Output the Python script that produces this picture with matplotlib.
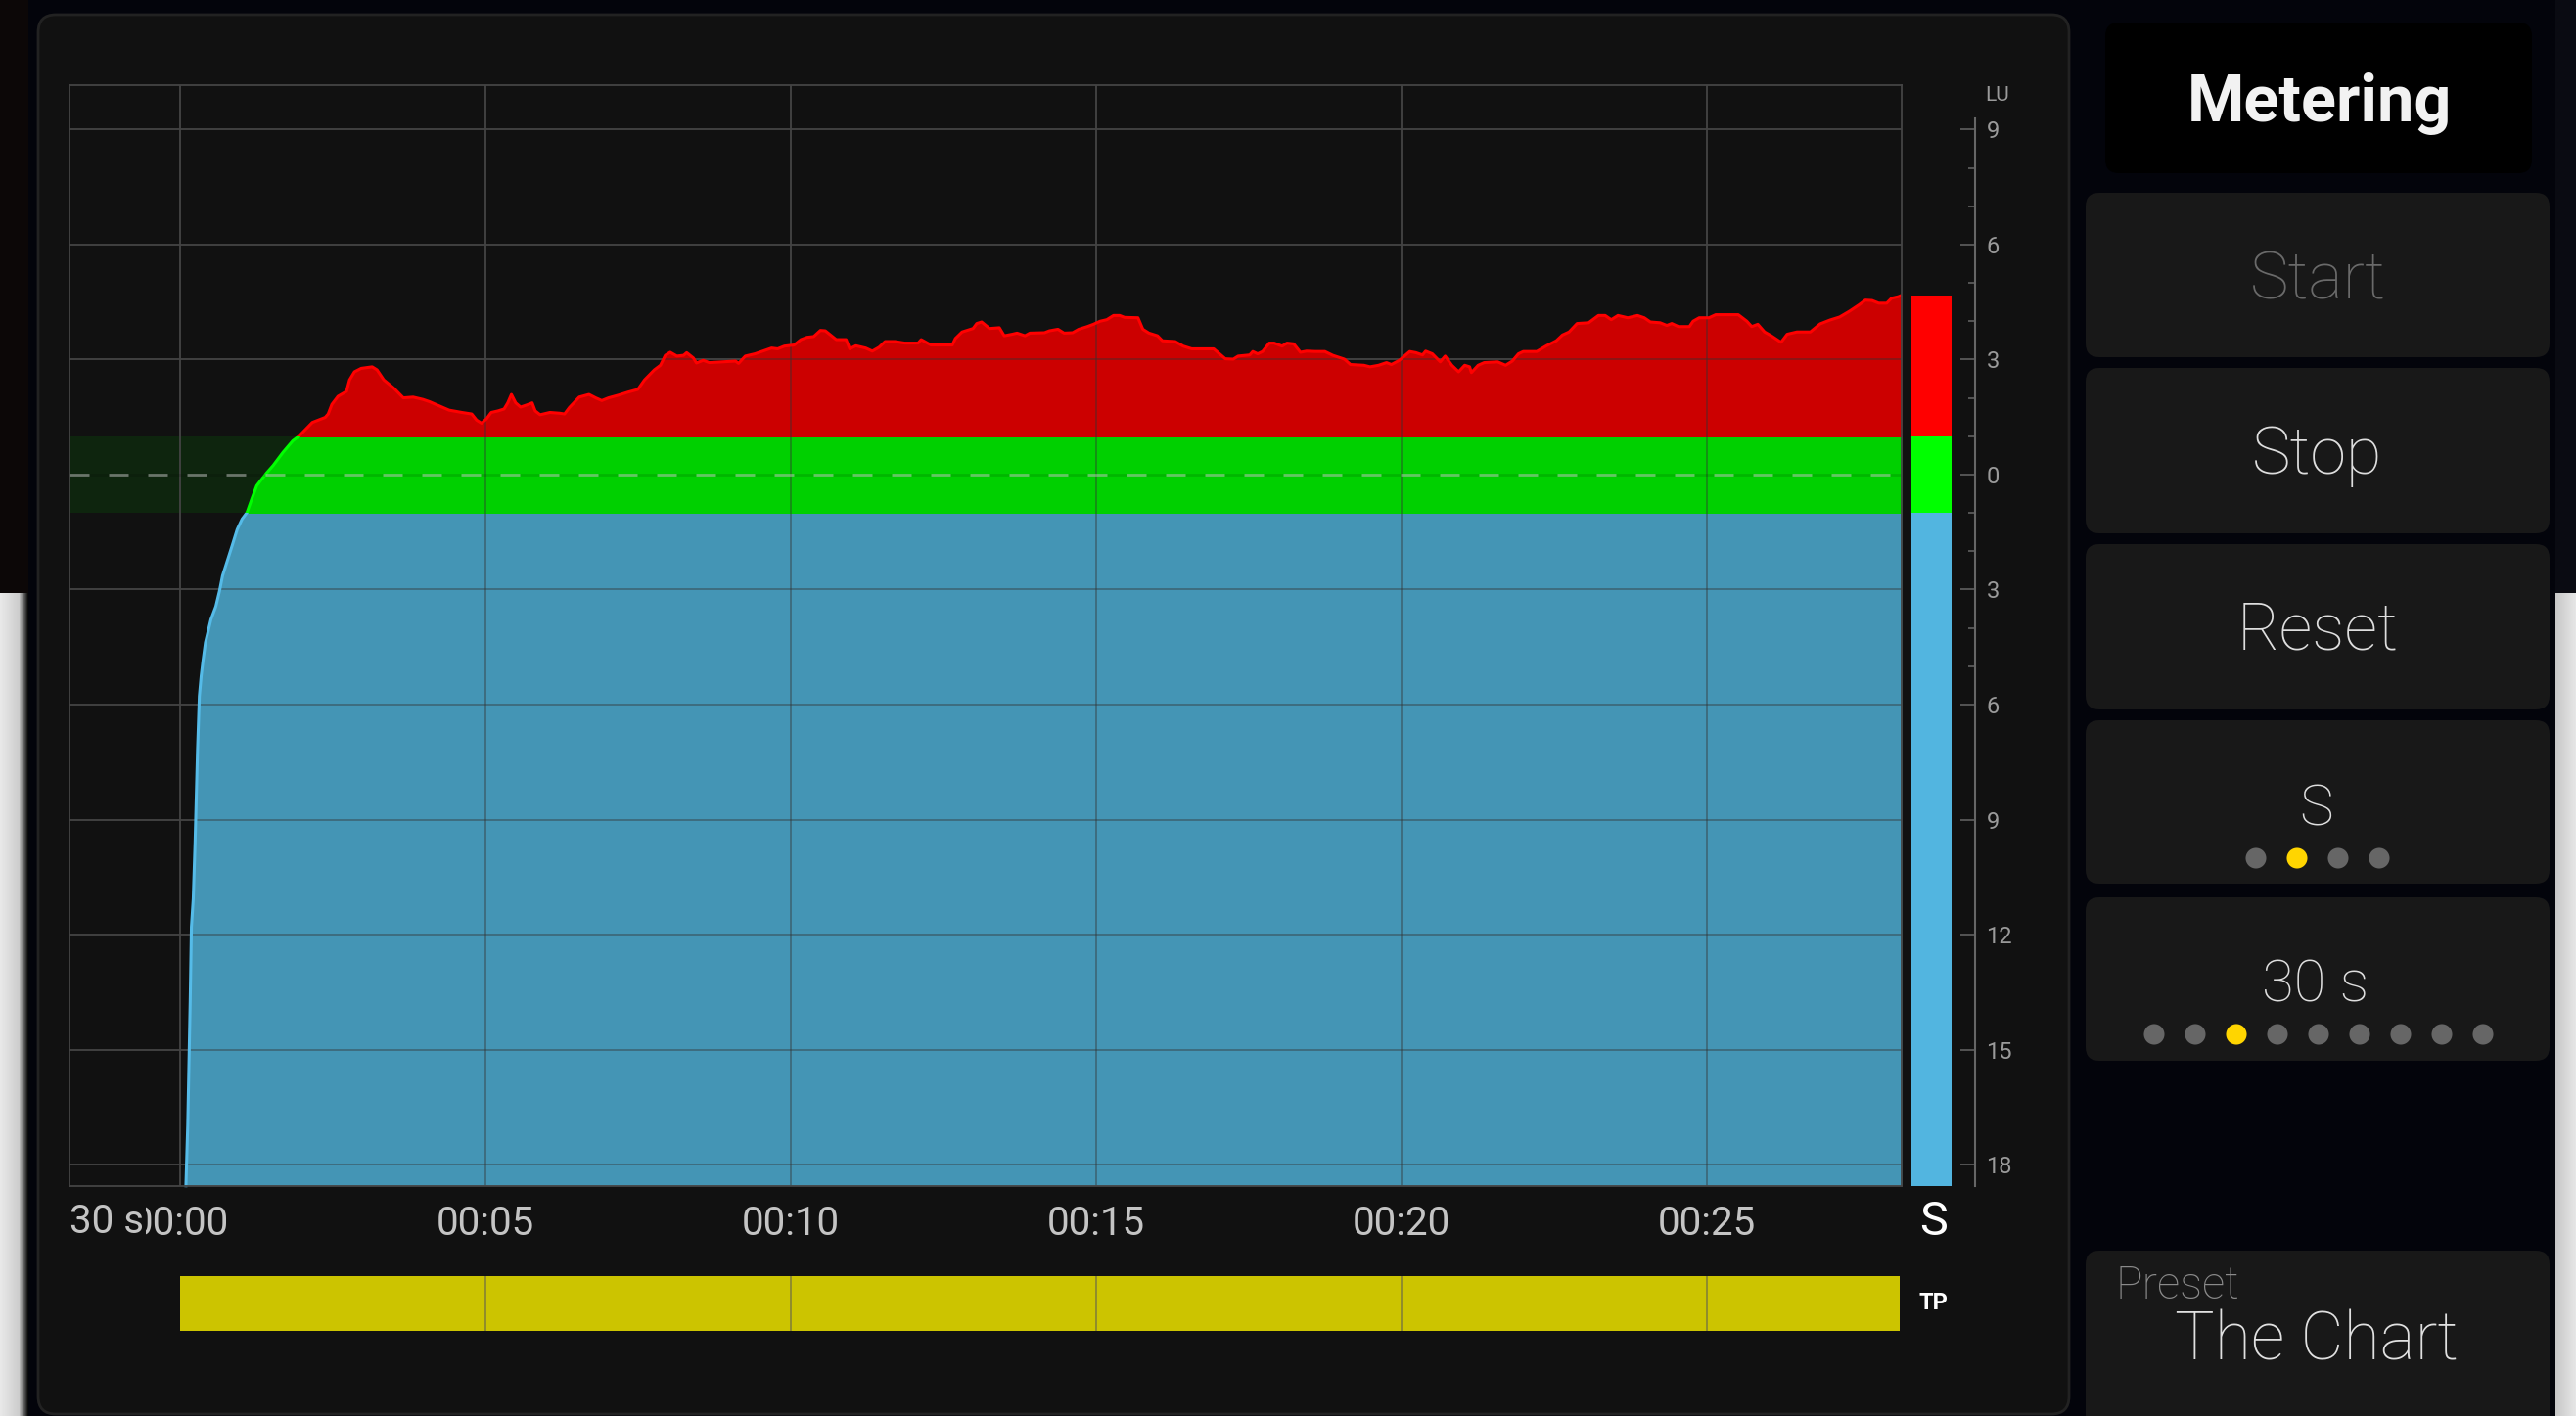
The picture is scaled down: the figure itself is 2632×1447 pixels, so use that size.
import matplotlib
matplotlib.use('Agg')
import matplotlib.pyplot as plt
import numpy as np
from matplotlib.patches import FancyBboxPatch, Rectangle

plt.rcParams['font.family'] = ['Roboto', 'DejaVu Sans']
plt.rcParams['lines.scale_dashes'] = False

W, H = 2632, 1447

# short-term loudness relative to target (LU) over the 30 s window
time_s = [
    0.10, 0.11, 0.13, 0.17, 0.19, 0.22, 0.25, 0.29, 0.32, 0.35,
    0.38, 0.42, 0.46, 0.51, 0.59, 0.65, 0.70, 0.78, 0.86, 0.94,
    1.02, 1.10, 1.18, 1.26, 1.42, 1.53, 1.69, 1.85, 1.95,
    2.17, 2.38, 2.43, 2.49, 2.59, 2.73, 2.78, 2.86, 2.97, 3.15,
    3.23, 3.34, 3.50, 3.66, 3.82, 3.98, 4.09, 4.25, 4.41, 4.62,
    4.78, 4.86, 4.94, 5.02, 5.10, 5.21, 5.31, 5.37, 5.43, 5.50,
    5.58, 5.69, 5.77, 5.82, 5.90, 6.06, 6.22, 6.30, 6.38, 6.54,
    6.70, 6.81, 6.91, 7.02, 7.18, 7.34, 7.50, 7.61, 7.77, 7.87,
    7.95, 8.03, 8.14, 8.25, 8.30, 8.41, 8.46, 8.57, 8.67, 8.89,
    9.10, 9.15, 9.26, 9.42, 9.58, 9.69, 9.79, 9.90, 10.06, 10.17,
    10.27, 10.38, 10.49, 10.57, 10.75, 10.91, 10.97, 11.07, 11.23, 11.34,
    11.45, 11.55, 11.71, 11.87, 12.09, 12.14, 12.30, 12.65, 12.70, 12.81,
    12.99, 13.05, 13.13, 13.26,
    13.42, 13.50, 13.63, 13.71, 13.84, 13.92, 14.16, 14.24, 14.38, 14.48,
    14.62, 14.72, 14.86, 14.96, 15.07, 15.18, 15.29, 15.39, 15.47, 15.69,
    15.77, 15.87, 16.01, 16.09, 16.30, 16.43, 16.57, 16.93, 17.12, 17.25,
    17.33, 17.52, 17.57, 17.65, 17.73, 17.84, 17.92, 18.05, 18.13, 18.24,
    18.35, 18.45, 18.59, 18.75, 18.88, 19.07, 19.17, 19.39, 19.49, 19.63,
    19.76, 19.84, 19.97,
    20.14, 20.24, 20.35, 20.40, 20.51, 20.64, 20.72, 20.83, 20.94, 21.04,
    21.12, 21.15, 21.26, 21.36, 21.58, 21.71, 21.82, 21.92, 22.00, 22.22,
    22.38, 22.54, 22.64, 22.75, 22.88, 23.07, 23.23, 23.34, 23.44, 23.55,
    23.71, 23.87, 23.98, 24.08, 24.24, 24.35, 24.43, 24.54, 24.72, 24.78,
    24.88, 25.04, 25.15, 25.52, 25.66, 25.74, 25.84, 25.95,
    26.06, 26.22, 26.32, 26.48, 26.70, 26.86, 27.02, 27.18, 27.34, 27.50,
    27.60, 27.71, 27.82, 27.95, 28.03, 28.14, 28.20,
]
loudness_lu = [
    -18.55, -18.0, -16.96, -13.75, -11.8, -11.07, -9.6, -7.19, -5.78, -5.25,
    -4.85, -4.38, -4.11, -3.78, -3.44, -3.04, -2.64, -2.24, -1.84, -1.43,
    -1.16, -0.99, -0.63, -0.29, 0.04, 0.24, 0.58, 0.88, 1.0,
    1.36, 1.49, 1.58, 1.83, 2.04, 2.17, 2.47, 2.68, 2.77, 2.81,
    2.73, 2.47, 2.26, 2.00, 2.02, 1.96, 1.90, 1.79, 1.68, 1.62,
    1.58, 1.42, 1.34, 1.45, 1.62, 1.66, 1.71, 1.87, 2.09, 1.87,
    1.76, 1.82, 1.87, 1.66, 1.56, 1.62, 1.60, 1.58, 1.75, 2.02,
    2.09, 2.00, 1.93, 2.00, 2.07, 2.15, 2.22, 2.47, 2.73, 2.85,
    3.11, 3.19, 3.09, 3.11, 3.18, 3.04, 2.91, 2.98, 2.92, 2.94,
    2.96, 2.90, 3.09, 3.15, 3.24, 3.30, 3.28, 3.35, 3.38, 3.52,
    3.58, 3.60, 3.76, 3.75, 3.52, 3.52, 3.28, 3.36, 3.30, 3.22,
    3.32, 3.47, 3.47, 3.43, 3.43, 3.52, 3.38, 3.38, 3.55, 3.72,
    3.81, 3.94, 3.98, 3.81,
    3.83, 3.62, 3.66, 3.69, 3.62, 3.69, 3.70, 3.75, 3.79, 3.69,
    3.70, 3.79, 3.86, 3.92, 4.00, 4.04, 4.15, 4.15, 4.10, 4.09,
    3.79, 3.69, 3.62, 3.49, 3.47, 3.35, 3.28, 3.28, 3.02, 3.01,
    3.09, 3.12, 3.21, 3.15, 3.21, 3.43, 3.43, 3.35, 3.43, 3.41,
    3.19, 3.22, 3.21, 3.21, 3.11, 3.01, 2.87, 2.85, 2.81, 2.85,
    2.92, 2.87, 2.98,
    3.21, 3.18, 3.12, 3.22, 3.15, 2.94, 3.09, 2.85, 2.68, 2.85,
    2.81, 2.66, 2.85, 2.92, 2.94, 2.85, 2.96, 3.15, 3.21, 3.21,
    3.36, 3.49, 3.64, 3.72, 3.94, 3.96, 4.15, 4.15, 4.04, 4.15,
    4.09, 4.15, 4.09, 3.98, 3.96, 3.89, 3.94, 3.86, 3.86, 4.00,
    4.09, 4.09, 4.17, 4.17, 4.00, 3.86, 3.92, 3.72,
    3.62, 3.45, 3.66, 3.72, 3.72, 3.93, 4.03, 4.11, 4.26, 4.43,
    4.55, 4.54, 4.47, 4.47, 4.60, 4.64, 4.68,
]

meter_now = 4.68          # current short-term value (S bar)
tp_end = 28.17            # true-peak strip length (s)
target_lo, target_hi = -1.0, 1.0
t_min, t_max = -1.8, 28.2
lu_min, lu_max = -18.55, 10.15

x_ticks = [0, 5, 10, 15, 20, 25]
x_labels = ['00:00', '00:05', '00:10', '00:15', '00:20', '00:25']
lu_ticks = [9, 6, 3, 0, -3, -6, -9, -12, -15, -18]
lu_labels = ['9', '6', '3', '0', '3', '6', '9', '12', '15', '18']
lu_minor = [8, 7, 5, 4, 2, 1, -1, -2, -4, -5]

buttons = ['Start', 'Stop', 'Reset']
button_colors = ['#6a6a6a', '#dedede', '#dedede']
mode_label, mode_count, mode_sel = 'S', 4, 1
span_label, span_count, span_sel = '30 s', 9, 2
preset_name = 'The Chart'

BG = '#03040b'
PANEL = '#111111'
BTN = '#181818'

fig = plt.figure(figsize=(W / 100, H / 100), dpi=100, facecolor=BG)

# ---- screen furniture in pixel coordinates ----
ui = fig.add_axes([0, 0, 1, 1])
ui.set_zorder(0)
ui.axis('off')

grad = np.concatenate([np.linspace(0.91, 0.80, 20), np.linspace(0.7, 0.05, 9)])[None, :]
ui.imshow(grad, extent=(0, 29, H, 606), cmap='gray', vmin=0, vmax=1, aspect='auto')
grad_r = np.linspace(0.78, 0.9, 21)[None, :]
ui.imshow(grad_r, extent=(2611, W, H, 606), cmap='gray', vmin=0, vmax=1, aspect='auto')
ui.add_patch(Rectangle((0, 0), 29, 606, fc='#0c0707', lw=0))
ui.add_patch(Rectangle((2611, 0), 21, 606, fc='#0a0b12', lw=0))
ui.set_xlim(0, W)
ui.set_ylim(H, 0)


def box(x0, y0, x1, y1, fc, r=14, ec='none', lw=0):
    ui.add_patch(FancyBboxPatch((x0 + r, y0 + r), x1 - x0 - 2 * r, y1 - y0 - 2 * r,
                                boxstyle=f'round,pad={r}', fc=fc, ec=ec, lw=lw))


box(39, 15, 2114, 1445, PANEL, r=18, ec='#222222', lw=2)

box(2151, 23, 2587, 177, '#000000')
ui.text(2370, 124, 'Metering', ha='center', va='baseline', fontsize=48,
        fontweight='bold', color='#f2f2f2')

btn_rows = [(197, 365, 305), (376, 545, 484), (556, 725, 663)]
for label, col, (y0, y1, base) in zip(buttons, button_colors, btn_rows):
    box(2131, y0, 2605, y1, BTN)
    ui.text(2368, base, label, ha='center', va='baseline', fontsize=48,
            fontweight='light', color=col)

# meter mode selector
box(2131, 736, 2605, 903, BTN)
ui.text(2367, 844, mode_label, ha='center', va='baseline', fontsize=42,
        fontweight='light', color='#dedede')
mx = 2368 + (np.arange(mode_count) - (mode_count - 1) / 2) * 42
ui.scatter(mx, [877] * mode_count, s=230, lw=0,
           c=['#ffd500' if i == mode_sel else '#666666' for i in range(mode_count)])

# time span selector
box(2131, 917, 2605, 1084, BTN)
ui.text(2366, 1024, span_label, ha='center', va='baseline', fontsize=43,
        fontweight='light', color='#dedede')
sx = 2369 + (np.arange(span_count) - (span_count - 1) / 2) * 42
ui.scatter(sx, [1057] * span_count, s=230, lw=0,
           c=['#ffd500' if i == span_sel else '#666666' for i in range(span_count)])

# preset
box(2131, 1278, 2605, 1460, BTN)
ui.text(2161, 1327, 'Preset', ha='left', va='baseline', fontsize=33,
        fontweight='light', color='#8a8a8a')
ui.text(2222, 1390, preset_name, ha='left', va='baseline', fontsize=49,
        fontweight='light', color='#e0e0e0')

# ---- loudness history ----
px0, px1, py0, py1 = 71.4, 1943.3, 87.3, 1211.7
ax = fig.add_axes([px0 / W, 1 - py1 / H, (px1 - px0) / W, (py1 - py0) / H])
ax.set_zorder(2)
ax.set_facecolor(PANEL)
ax.set_xlim(t_min, t_max)
ax.set_ylim(lu_min, lu_max)
for s in ax.spines.values():
    s.set_color('#444444')
    s.set_linewidth(1.3)

ax.axhspan(target_lo, target_hi, color='#0e250e', lw=0, zorder=0.5)
for x in x_ticks:
    ax.axvline(x, color='#444444', lw=1.3, zorder=0.8)
for y in lu_ticks:
    if y != 0:
        ax.axhline(y, color='#444444', lw=1.3, zorder=0.8)

t = np.array(time_s)
lu = np.array(loudness_lu)
zones = [(lu_min - 1, target_lo, '#4495b5', '#55bbe8'),
         (target_lo, target_hi, '#00d000', '#00ff00'),
         (target_hi, 30, '#cc0000', '#ff0000')]
fill_path = None
for lo, hi, fc, ec in zones:
    clip = Rectangle((t_min, lo), t_max - t_min, hi - lo, transform=ax.transData)
    f = ax.fill_between(t, lu_min, lu, color=fc, lw=0, zorder=1)
    f.set_clip_path(clip)
    fill_path = f.get_paths()[0]
    ln, = ax.plot(t, lu, color=ec, lw=2.2, zorder=1.6)
    ln.set_clip_path(clip)

# grid seen through the fill
for x in x_ticks:
    g = ax.axvline(x, color='#333333', alpha=0.45, lw=1.3, zorder=1.2)
    g.set_clip_path(fill_path, ax.transData)
for y in lu_ticks:
    if y != 0:
        g = ax.axhline(y, color='#333333', alpha=0.45, lw=1.3, zorder=1.2)
        g.set_clip_path(fill_path, ax.transData)

ax.axhline(0, color='#000000', alpha=0.12, lw=2, zorder=1.7)
ax.axhline(0, color='#dddddd', alpha=0.45, lw=2, dashes=(14.4, 14.4), zorder=1.8)

ax.set_xticks(x_ticks, x_labels)
ax.set_yticks([])
ax.tick_params(axis='x', length=0, pad=14, labelsize=29, labelcolor='#c4c4c4')
ax.annotate('30 s', xy=(0, 0), xycoords='axes fraction', xytext=(0, -35),
            textcoords='offset points', ha='left', va='baseline', fontsize=29,
            color='#c4c4c4', zorder=5,
            bbox=dict(fc=PANEL, ec='none', boxstyle='square,pad=0.05'))

# ---- short-term meter bar and LU scale ----
mx0, mx1 = 1953, 2018.3
axm = fig.add_axes([mx0 / W, 1 - py1 / H, (mx1 - mx0) / W, (py1 - py0) / H])
axm.set_zorder(2)
axm.patch.set_alpha(0)
axm.set_xlim(0, 1)
axm.set_ylim(lu_min, lu_max)
bw = (1994 - mx0) / (mx1 - mx0)
axm.bar(0, target_lo - lu_min, bottom=lu_min, width=bw, align='edge', color='#52b5e0', lw=0)
axm.bar(0, target_hi - target_lo, bottom=target_lo, width=bw, align='edge', color='#00ff00', lw=0)
axm.bar(0, meter_now - target_hi, bottom=target_hi, width=bw, align='edge', color='#ff0000', lw=0)
for side in ['left', 'top', 'bottom']:
    axm.spines[side].set_visible(False)
axm.spines['right'].set_color('#666666')
axm.spines['right'].set_linewidth(1.5)
axm.spines['right'].set_bounds(lu_min, 9.3)
axm.set_xticks([])
axm.yaxis.tick_right()
axm.set_yticks(lu_ticks, lu_labels)
axm.set_yticks(lu_minor, minor=True)
axm.tick_params(axis='y', which='major', direction='in', length=10.8, width=1.1,
                color='#666666', pad=8, labelsize=17, labelcolor='#9a9a9a')
axm.tick_params(axis='y', which='minor', direction='in', length=5, width=1.1,
                color='#666666')
axm.annotate('LU', xy=(1, 9.9), xycoords=('axes fraction', 'data'), xytext=(7, 0),
             textcoords='offset points', ha='left', va='center', fontsize=15,
             color='#9a9a9a')
axm.annotate('S', xy=((1976 - mx0) / (mx1 - mx0), 0), xycoords='axes fraction',
             xytext=(0, -36), textcoords='offset points', ha='center', va='baseline',
             fontsize=35, color='#ffffff')

# ---- true-peak strip ----
axt = fig.add_axes([px0 / W, 1 - 1360 / H, (px1 - px0) / W, 56 / H])
axt.set_zorder(2)
axt.axis('off')
axt.set_xlim(t_min, t_max)
axt.set_ylim(0, 1)
axt.barh(0.5, tp_end, left=0, height=1, color='#ccc400', lw=0)
for x in x_ticks[1:]:
    axt.axvline(x, color='#8a8630', lw=1.3)
axt.annotate('TP', xy=(1, 0.5), xycoords='axes fraction', xytext=(23, 0),
             textcoords='offset points', ha='center', va='center', fontsize=17,
             fontweight='bold', color='#ffffff')

fig.savefig('out.png', dpi=100, facecolor=BG)
